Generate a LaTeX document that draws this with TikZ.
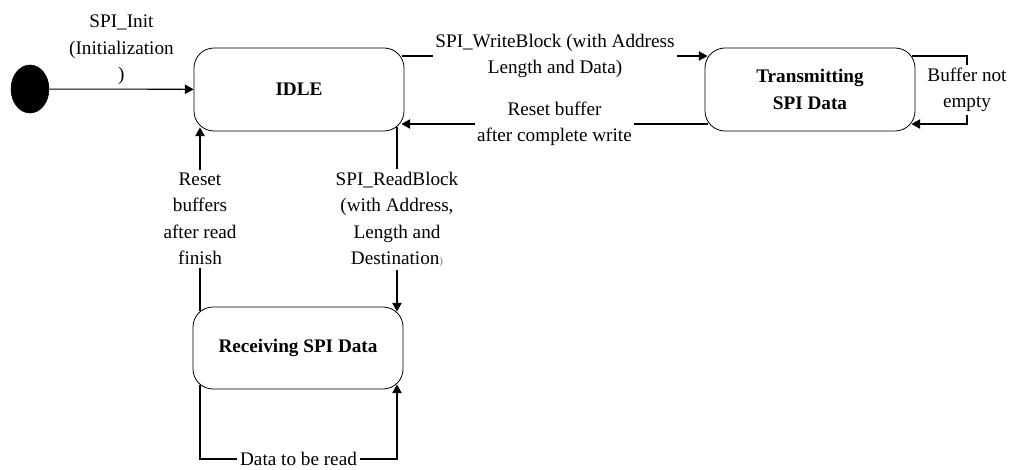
\documentclass[tikz,border=0pt]{standalone}
\usepackage{fontspec}
\setmainfont{Liberation Serif}
\usetikzlibrary{arrows.meta,shapes.geometric,calc}
\definecolor{parenblue}{RGB}{95,125,200}
\begin{document}
\begin{tikzpicture}[x=0.75pt,y=-0.75pt,
  txt/.style={font=\fontsize{14.4pt}{19.8pt}\selectfont},
  state/.style={draw, line width=0.6pt, rounded corners=15pt, align=center,
    inner sep=0pt, font=\fontsize{14.4pt}{20.2pt}\selectfont\bfseries,
    minimum width=157.5pt, minimum height=62.25pt},
  lbl/.style={txt, fill=white, align=center, inner sep=2pt},
  link/.style={line width=0.8pt},
  flow/.style={link, -{Triangle[length=6.5pt,width=7pt]}}]
\useasboundingbox (0,0) rectangle (1009,470);

% states
\node[ellipse, fill=black, draw=black, minimum width=28.5pt, minimum height=36pt, inner sep=0pt] (init) at (30,89) {};
\node[state] (idle) at (299,89.5) {IDLE};
\node[state] (tx) at (810,89.5) {Transmitting\\SPI Data};
\node[state, minimum height=61.5pt] (rx) at (298,348) {Receiving SPI Data};

% routing helpers
\coordinate (wy) at (0,56);
\coordinate (ry) at (0,124);
\coordinate (lx) at (200,0);
\coordinate (rdx) at (397,0);
\coordinate (lpx) at (967,0);
\coordinate (by) at (0,459);

% initial transition
\draw[flow] (init) -- node[txt, above, align=center, inner sep=3pt] (initlbl) {SPI\_Init\\(Initialization\\)} (idle);

% IDLE <-> Transmitting
\draw[flow] ($(idle.east|-wy)+(-2,0)$) -- node[lbl] (wrlbl) {SPI\_WriteBlock (with Address\\Length and Data)} ($(tx.west|-wy)+(3,0)$);
\draw[flow] ($(tx.west|-ry)+(3,0)$) -- node[lbl] (rstlbl) {Reset buffer\\after complete write} ($(idle.east|-ry)+(-3,0)$);

% Transmitting self loop
\draw[flow] ($(tx.east|-wy)+(-3,0)$) -- (lpx|-wy) -- node[lbl] (buflbl) {Buffer not\\empty} (lpx|-ry) -- ($(tx.east|-ry)+(-4,0)$);

% IDLE <-> Receiving
\draw[flow] ($(rx.north-|lx)+(0,4)$) -- node[lbl] (rdrst) {Reset\\buffers\\after read\\finish} ($(idle.south-|lx)+(0,-4)$);
\draw[flow] ($(idle.south-|rdx)+(0,-4)$) -- node[lbl] (rdlbl) {SPI\_ReadBlock\\(with Address,\\Length and\\Destination{\color{parenblue}\fontsize{8pt}{8pt}\selectfont)}} ($(rx.north-|rdx)+(0,5)$);

% Receiving self loop
\draw[flow] ($(rx.south-|lx)+(0,-4)$) -- (lx|-by) -- node[lbl, inner ysep=0.5pt] (datalbl) {Data to be read} (rdx|-by) -- ($(rx.south-|rdx)+(0,-5)$);
\end{tikzpicture}
\end{document}
